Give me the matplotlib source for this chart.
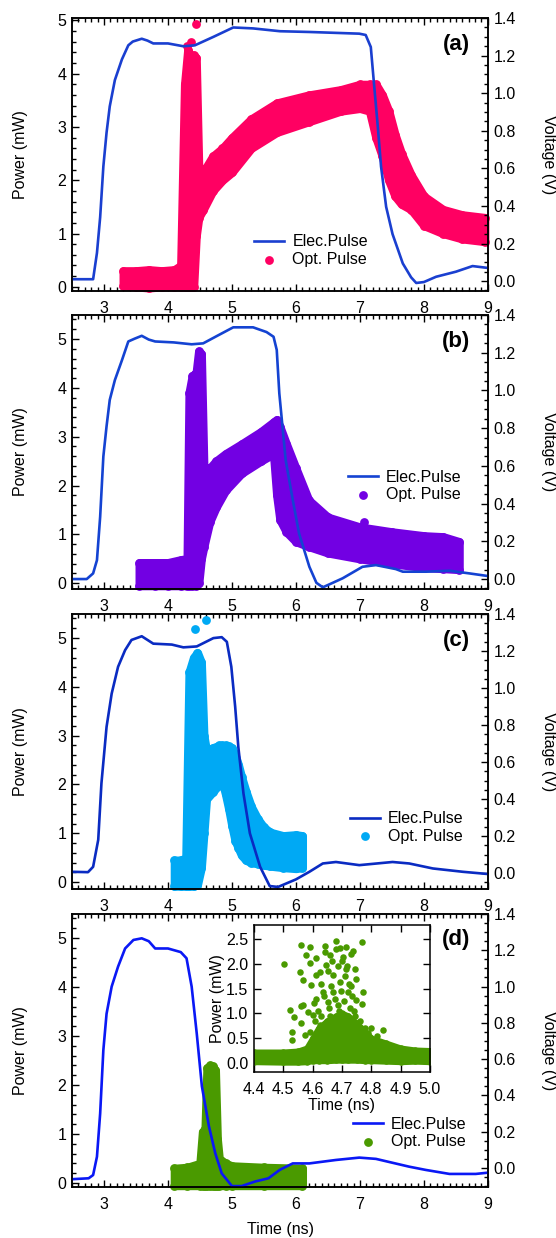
import matplotlib
matplotlib.use("Agg")
import matplotlib.pyplot as plt
from matplotlib.ticker import MultipleLocator, FormatStrFormatter

plt.rcParams['font.family'] = ['Liberation Sans', 'DejaVu Sans']
plt.rcParams['font.size'] = 11.5

# ---------------- data ----------------
# electrical pulse (V) vs time (ns)
ta_e = [2.5, 2.83, 2.89, 2.94, 2.99, 3.04, 3.09, 3.17, 3.28, 3.38, 3.45, 3.59, 3.68, 3.77, 4.0, 4.24, 4.42,
        4.71, 5.02, 5.33, 5.75, 6.21, 6.99, 7.09, 7.17, 7.22, 7.28, 7.33, 7.41, 7.51, 7.67, 7.80, 7.88,
        8.0, 8.19, 8.5, 8.76, 9.0]
va_e = [0.01, 0.01, 0.15, 0.34, 0.61, 0.79, 0.93, 1.07, 1.18, 1.255, 1.275, 1.29, 1.28, 1.265, 1.265, 1.25, 1.255,
        1.30, 1.35, 1.345, 1.33, 1.326, 1.317, 1.31, 1.246, 1.05, 0.82, 0.61, 0.395, 0.25, 0.094, 0.02, -0.01,
        -0.005, 0.023, 0.05, 0.08, 0.07]

tb_e = [2.5, 2.73, 2.83, 2.89, 2.94, 2.99, 3.04, 3.09, 3.17, 3.28, 3.38, 3.48, 3.59, 3.70, 3.80, 4.09, 4.37,
        4.55, 4.77, 5.02, 5.33, 5.54, 5.65, 5.70, 5.74, 5.84, 5.95, 6.05, 6.21, 6.32, 6.42, 6.73, 7.04,
        7.25, 7.56, 7.67, 8.03, 8.40, 8.71, 9.0]
vb_e = [0.0, 0.0, 0.03, 0.10, 0.33, 0.65, 0.81, 0.95, 1.055, 1.16, 1.26, 1.275, 1.29, 1.27, 1.26, 1.255, 1.245,
        1.25, 1.29, 1.335, 1.335, 1.31, 1.285, 1.215, 0.985, 0.63, 0.42, 0.24, 0.065, -0.02, -0.044, 0.004, 0.065,
        0.074, 0.053, 0.039, 0.039, 0.044, 0.03, 0.016]

tc_e = [2.5, 2.75, 2.83, 2.91, 2.96, 3.04, 3.12, 3.22, 3.33, 3.43, 3.59, 3.77, 4.06, 4.24, 4.45,
        4.71, 4.84, 4.92, 4.99, 5.05, 5.10, 5.18, 5.28, 5.44, 5.59, 5.72, 6.0, 6.21, 6.42, 6.625,
        6.99, 7.51, 7.77, 8.14, 8.61, 9.0]
vc_e = [0.007, 0.005, 0.034, 0.18, 0.485, 0.79, 0.97, 1.115, 1.205, 1.26, 1.28, 1.24, 1.235, 1.22, 1.225,
        1.27, 1.275, 1.25, 1.115, 0.90, 0.68, 0.43, 0.215, 0.034, -0.07, -0.075, -0.034, 0.007, 0.052, 0.06,
        0.043, 0.06, 0.052, 0.025, 0.007, -0.005]

td_e = [2.5, 2.76, 2.83, 2.89, 2.94, 2.99, 3.04, 3.12, 3.22, 3.33, 3.46, 3.59, 3.70, 3.80, 4.0,
        4.2, 4.29, 4.37, 4.45, 4.53, 4.64, 4.74, 4.84, 5.0, 5.15, 5.36, 5.57, 5.75, 5.95, 6.21,
        6.625, 6.99, 7.25, 7.77, 8.03, 8.40, 8.81, 9.0]
vd_e = [-0.062, -0.057, -0.039, 0.062, 0.30, 0.65, 0.85, 1.0, 1.11, 1.21, 1.257, 1.266, 1.25, 1.21, 1.21,
        1.19, 1.156, 1.0, 0.74, 0.45, 0.23, 0.08, -0.03, -0.1, -0.1, -0.075, -0.057, -0.01, 0.025, 0.025,
        0.044, 0.057, 0.05, 0.007, -0.011, -0.033, -0.033, -0.026]

# optical pulse (mW): envelope of the dense point cloud (time, lower, upper)
ta_o = [3.30, 3.50, 3.70, 3.90, 4.10, 4.20, 4.26, 4.31, 4.36, 4.40, 4.44, 4.48, 4.55, 4.70, 4.85,
        5.00, 5.30, 5.70, 6.20, 6.70, 7.00, 7.15, 7.25, 7.35, 7.45, 7.55, 7.65, 7.80, 8.00, 8.30,
        8.60, 8.95]
pa_lo = [0.02, 0.0, -0.02, 0.0, 0.0, 0.0, 0.0, 0.0, 0.0, 0.0, 0.95, 1.3, 1.45, 1.8, 2.0,
         2.15, 2.6, 2.9, 3.1, 3.3, 3.35, 3.3, 2.8, 2.45, 2.0, 1.7, 1.55, 1.45, 1.15, 1.0,
         0.9, 0.85]
pa_hi = [0.3, 0.3, 0.32, 0.3, 0.32, 0.4, 3.8, 4.45, 4.3, 4.35, 4.3, 2.2, 2.15, 2.45, 2.6,
         2.8, 3.15, 3.45, 3.6, 3.7, 3.8, 3.8, 3.8, 3.6, 3.3, 2.85, 2.5, 2.1, 1.7, 1.45,
         1.35, 1.3]
ta_x = [4.44, 4.29, 4.36]
pa_x = [4.94, 4.53, 4.6]

tb_o = [3.55, 3.80, 4.00, 4.20, 4.30, 4.33, 4.38, 4.44, 4.48, 4.52, 4.56, 4.65, 4.75, 4.90, 5.15,
        5.45, 5.65, 5.70, 5.75, 5.85, 6.00, 6.20, 6.50, 7.00, 7.50, 8.00, 8.30, 8.55]
pb_lo = [-0.05, -0.05, -0.05, -0.05, -0.05, -0.05, -0.05, -0.05, 0.0, 0.5, 0.75, 1.25, 1.55, 1.9, 2.25,
         2.5, 2.65, 1.8, 1.3, 1.05, 0.85, 0.75, 0.62, 0.5, 0.4, 0.32, 0.3, 0.28]
pb_hi = [0.42, 0.42, 0.42, 0.48, 0.5, 3.9, 4.25, 4.3, 4.75, 4.7, 2.35, 2.35, 2.5, 2.65, 2.85,
         3.1, 3.3, 3.35, 3.2, 2.85, 2.35, 1.7, 1.35, 1.15, 1.05, 0.97, 0.95, 0.85]
tb_x = [7.07]
pb_x = [1.26]

tc_o = [4.10, 4.20, 4.28, 4.33, 4.40, 4.46, 4.52, 4.56, 4.60, 4.70, 4.80, 4.85, 4.90, 4.95, 5.00,
        5.05, 5.10, 5.15, 5.22, 5.30, 5.40, 5.50, 5.60, 5.80, 6.00, 6.10]
pc_lo = [-0.08, -0.08, -0.08, -0.08, -0.08, -0.05, 0.3, 1.0, 1.7, 1.85, 2.0, 2.05, 1.8, 1.5, 1.15,
         0.85, 0.7, 0.55, 0.45, 0.4, 0.38, 0.35, 0.33, 0.3, 0.28, 0.3]
pc_hi = [0.45, 0.45, 0.5, 4.3, 4.6, 4.7, 4.5, 3.0, 2.7, 2.75, 2.8, 2.8, 2.8, 2.78, 2.75,
         2.6, 2.4, 2.15, 1.85, 1.55, 1.3, 1.12, 1.02, 0.95, 0.97, 0.95]
tc_x = [4.42, 4.59]
pc_x = [5.18, 5.36]

td_o = [4.10, 4.30, 4.50, 4.54, 4.58, 4.61, 4.66, 4.70, 4.74, 4.77, 4.80, 4.90, 5.00, 5.50, 6.10]
pd_lo = [-0.05, -0.05, -0.05, -0.05, -0.05, -0.05, -0.05, -0.05, -0.05, -0.05, -0.05, -0.05, -0.05, -0.05, -0.05]
pd_hi = [0.3, 0.32, 0.4, 1.05, 1.1, 2.35, 2.4, 2.38, 2.3, 0.9, 0.5, 0.4, 0.35, 0.32, 0.3]

# inset of panel (d)
ti_o = [4.40, 4.50, 4.55, 4.58, 4.60, 4.62, 4.65, 4.68, 4.70, 4.72, 4.75, 4.78, 4.80, 4.85, 4.90, 4.95, 5.00]
pi_lo = [0.03, 0.02, 0.02, 0.03, 0.05, 0.05, 0.05, 0.06, 0.06, 0.06, 0.06, 0.05, 0.05, 0.04, 0.03, 0.04, 0.03]
pi_hi = [0.22, 0.22, 0.24, 0.30, 0.50, 0.70, 0.85, 0.95, 1.00, 0.95, 0.80, 0.62, 0.50, 0.40, 0.30, 0.26, 0.25]
ti_x = [4.503, 4.562, 4.590, 4.681, 4.642, 4.767, 4.738, 4.524, 4.535, 4.528, 4.528, 4.562, 4.568,
        4.568, 4.556, 4.579, 4.590, 4.613, 4.624, 4.596, 4.585, 4.630, 4.647, 4.658, 4.692, 4.704,
        4.715, 4.732, 4.744, 4.749, 4.772, 4.770, 4.670, 4.692, 4.721, 4.653, 4.687, 4.613, 4.635,
        4.602, 4.624, 4.840, 4.800, 4.562, 4.670, 4.715, 4.642, 4.613, 4.749, 4.727, 4.590, 4.573,
        4.605, 4.618, 4.640, 4.655, 4.662, 4.675, 4.685, 4.698, 4.708, 4.712, 4.725, 4.735, 4.740,
        4.652, 4.665, 4.678, 4.700, 4.718, 4.730, 4.608, 4.628, 4.645, 4.660, 4.690, 4.710, 4.745,
        4.760, 4.780, 4.790, 4.820]
pi_x = [1.99, 2.38, 2.33, 2.46, 2.36, 2.43, 2.26, 1.07, 0.93, 0.63, 0.46, 0.80, 1.16,
        1.67, 1.84, 2.18, 2.01, 2.11, 1.84, 1.57, 1.03, 1.60, 1.97, 2.18, 2.31, 2.14,
        2.34, 2.19, 1.90, 1.70, 1.43, 1.18, 1.43, 1.63, 1.43, 1.23, 1.16, 1.30, 1.43,
        0.97, 0.76, 0.67, 0.70, 1.14, 1.77, 1.90, 2.24, 1.77, 1.27, 1.10, 0.63, 0.56,
        1.20, 1.05, 1.35, 1.10, 1.55, 1.30, 1.95, 1.45, 1.25, 1.75, 1.60, 1.35, 1.05,
        1.85, 2.05, 2.30, 2.05, 1.95, 1.55, 0.85, 0.95, 0.80, 0.95, 1.05, 0.90, 0.95,
        0.85, 0.70, 0.60, 0.55]

panels = [
    dict(tag='(a)', te=ta_e, ve=va_e, to=ta_o, lo=pa_lo, hi=pa_hi, tx=ta_x, px=pa_x,
         ecol='#1a3fd0', ocol='#ff0062', ylim1=(-0.08, 5.045), ylim2=(-0.053, 1.4),
         rect=[0.1295, 0.7649, 0.748, 0.2205], leg=(0.4375, 0.148)),
    dict(tag='(b)', te=tb_e, ve=vb_e, to=tb_o, lo=pb_lo, hi=pb_hi, tx=tb_x, px=pb_x,
         ecol='#1443d2', ocol='#7200e3', ylim1=(-0.12, 5.49), ylim2=(-0.053, 1.4),
         rect=[0.1295, 0.5242, 0.748, 0.2213], leg=(0.663, 0.376)),
    dict(tag='(c)', te=tc_e, ve=vc_e, to=tc_o, lo=pc_lo, hi=pc_hi, tx=tc_x, px=pc_x,
         ecol='#0a2bc2', ocol='#00a9f4', ylim1=(-0.14, 5.49), ylim2=(-0.086, 1.4),
         rect=[0.1295, 0.2819, 0.748, 0.2221], leg=(0.668, 0.224)),
    dict(tag='(d)', te=td_e, ve=vd_e, to=td_o, lo=pd_lo, hi=pd_hi, tx=[], px=[],
         ecol='#0a18f5', ocol='#4a9a00', ylim1=(-0.08, 5.49), ylim2=(-0.105, 1.4),
         rect=[0.1295, 0.0412, 0.748, 0.2205], leg=(0.675, 0.198)),
]

fig = plt.figure(figsize=(5.56, 12.38), dpi=100)

for p in panels:
    ax1 = fig.add_axes(p['rect'])
    ax2 = ax1.twinx()

    # optical pulse cloud on the power axis
    ax1.fill_between(p['to'], p['lo'], p['hi'], facecolor=p['ocol'], edgecolor=p['ocol'],
                     lw=6.0, joinstyle='round', clip_on=False, zorder=2)
    sc = ax1.scatter(p['to'] + p['to'], p['lo'] + p['hi'], s=40, color=p['ocol'], lw=0,
                     clip_on=False, zorder=2)
    if p['tx']:
        ax1.scatter(p['tx'], p['px'], s=40, color=p['ocol'], lw=0, clip_on=False, zorder=2)

    # electrical pulse on the voltage axis
    line, = ax2.plot(p['te'], p['ve'], color=p['ecol'], lw=1.9)

    ax1.set_xlim(2.5, 9)
    ax1.set_ylim(*p['ylim1'])
    ax2.set_ylim(*p['ylim2'])

    ax1.xaxis.set_major_locator(MultipleLocator(1))
    ax1.xaxis.set_minor_locator(MultipleLocator(0.1))
    ax1.yaxis.set_major_locator(MultipleLocator(1))
    ax1.yaxis.set_minor_locator(MultipleLocator(0.2))
    ax2.yaxis.set_major_locator(MultipleLocator(0.2))
    ax2.yaxis.set_minor_locator(MultipleLocator(0.05))
    ax2.yaxis.set_major_formatter(FormatStrFormatter('%.1f'))

    ax1.tick_params(axis='both', which='both', direction='in', top=True, right=False, width=1)
    ax1.tick_params(which='major', length=5)
    ax1.tick_params(which='minor', length=3)
    ax1.tick_params(axis='x', pad=7)
    ax1.tick_params(axis='y', pad=4)
    ax2.tick_params(axis='y', which='both', direction='in', width=1, pad=4)
    ax2.tick_params(axis='y', which='major', length=5)
    ax2.tick_params(axis='y', which='minor', length=3)
    for sp in list(ax1.spines.values()) + list(ax2.spines.values()):
        sp.set_linewidth(1.1)

    ax2.text(0.957, 0.905, p['tag'], transform=ax1.transAxes, ha='right', va='center',
             fontsize=16, fontweight='bold')

    ax2.legend([line, sc], ['Elec.Pulse', 'Opt. Pulse'], loc='center left',
               bbox_to_anchor=p['leg'], frameon=False, borderpad=0, borderaxespad=0,
               handlelength=1.9, handletextpad=0.5, labelspacing=0.15, scatterpoints=1,
               fontsize=11.5)

    b = p['rect']
    yc = b[1] + b[3] / 2
    fig.text(0.036, yc, 'Power (mW)', rotation=90, ha='center', va='center', fontsize=11.5)
    fig.text(0.987, yc, 'Voltage (V)', rotation=270, ha='center', va='center', fontsize=11.5)

fig.text(0.505, 0.0065, 'Time (ns)', ha='center', va='center', fontsize=11.5)

# inset in panel (d)
axin = fig.add_axes([0.4568, 0.1341, 0.3165, 0.1187], facecolor='white')
axin.fill_between(ti_o, pi_lo, pi_hi, facecolor='#4a9a00', edgecolor='#4a9a00', lw=4.5,
                  joinstyle='round', zorder=2)
axin.scatter(ti_o + ti_o, pi_lo + pi_hi, s=22, color='#4a9a00', lw=0, zorder=2)
axin.scatter(ti_x, pi_x, s=22, color='#4a9a00', lw=0, zorder=2)
axin.set_xlim(4.4, 5.0)
axin.set_ylim(-0.18, 2.78)
axin.xaxis.set_major_locator(MultipleLocator(0.1))
axin.yaxis.set_major_locator(MultipleLocator(0.5))
axin.xaxis.set_major_formatter(FormatStrFormatter('%.1f'))
axin.yaxis.set_major_formatter(FormatStrFormatter('%.1f'))
axin.tick_params(direction='in', top=True, right=True, length=5, width=1)
axin.tick_params(axis='x', pad=7)
axin.tick_params(axis='y', pad=4)
for sp in axin.spines.values():
    sp.set_linewidth(1.1)
axin.set_xlabel('Time (ns)', fontsize=11.5, labelpad=1)
axin.set_ylabel('Power (mW)', fontsize=11.5, labelpad=1)

fig.savefig('out.png', dpi=100)
